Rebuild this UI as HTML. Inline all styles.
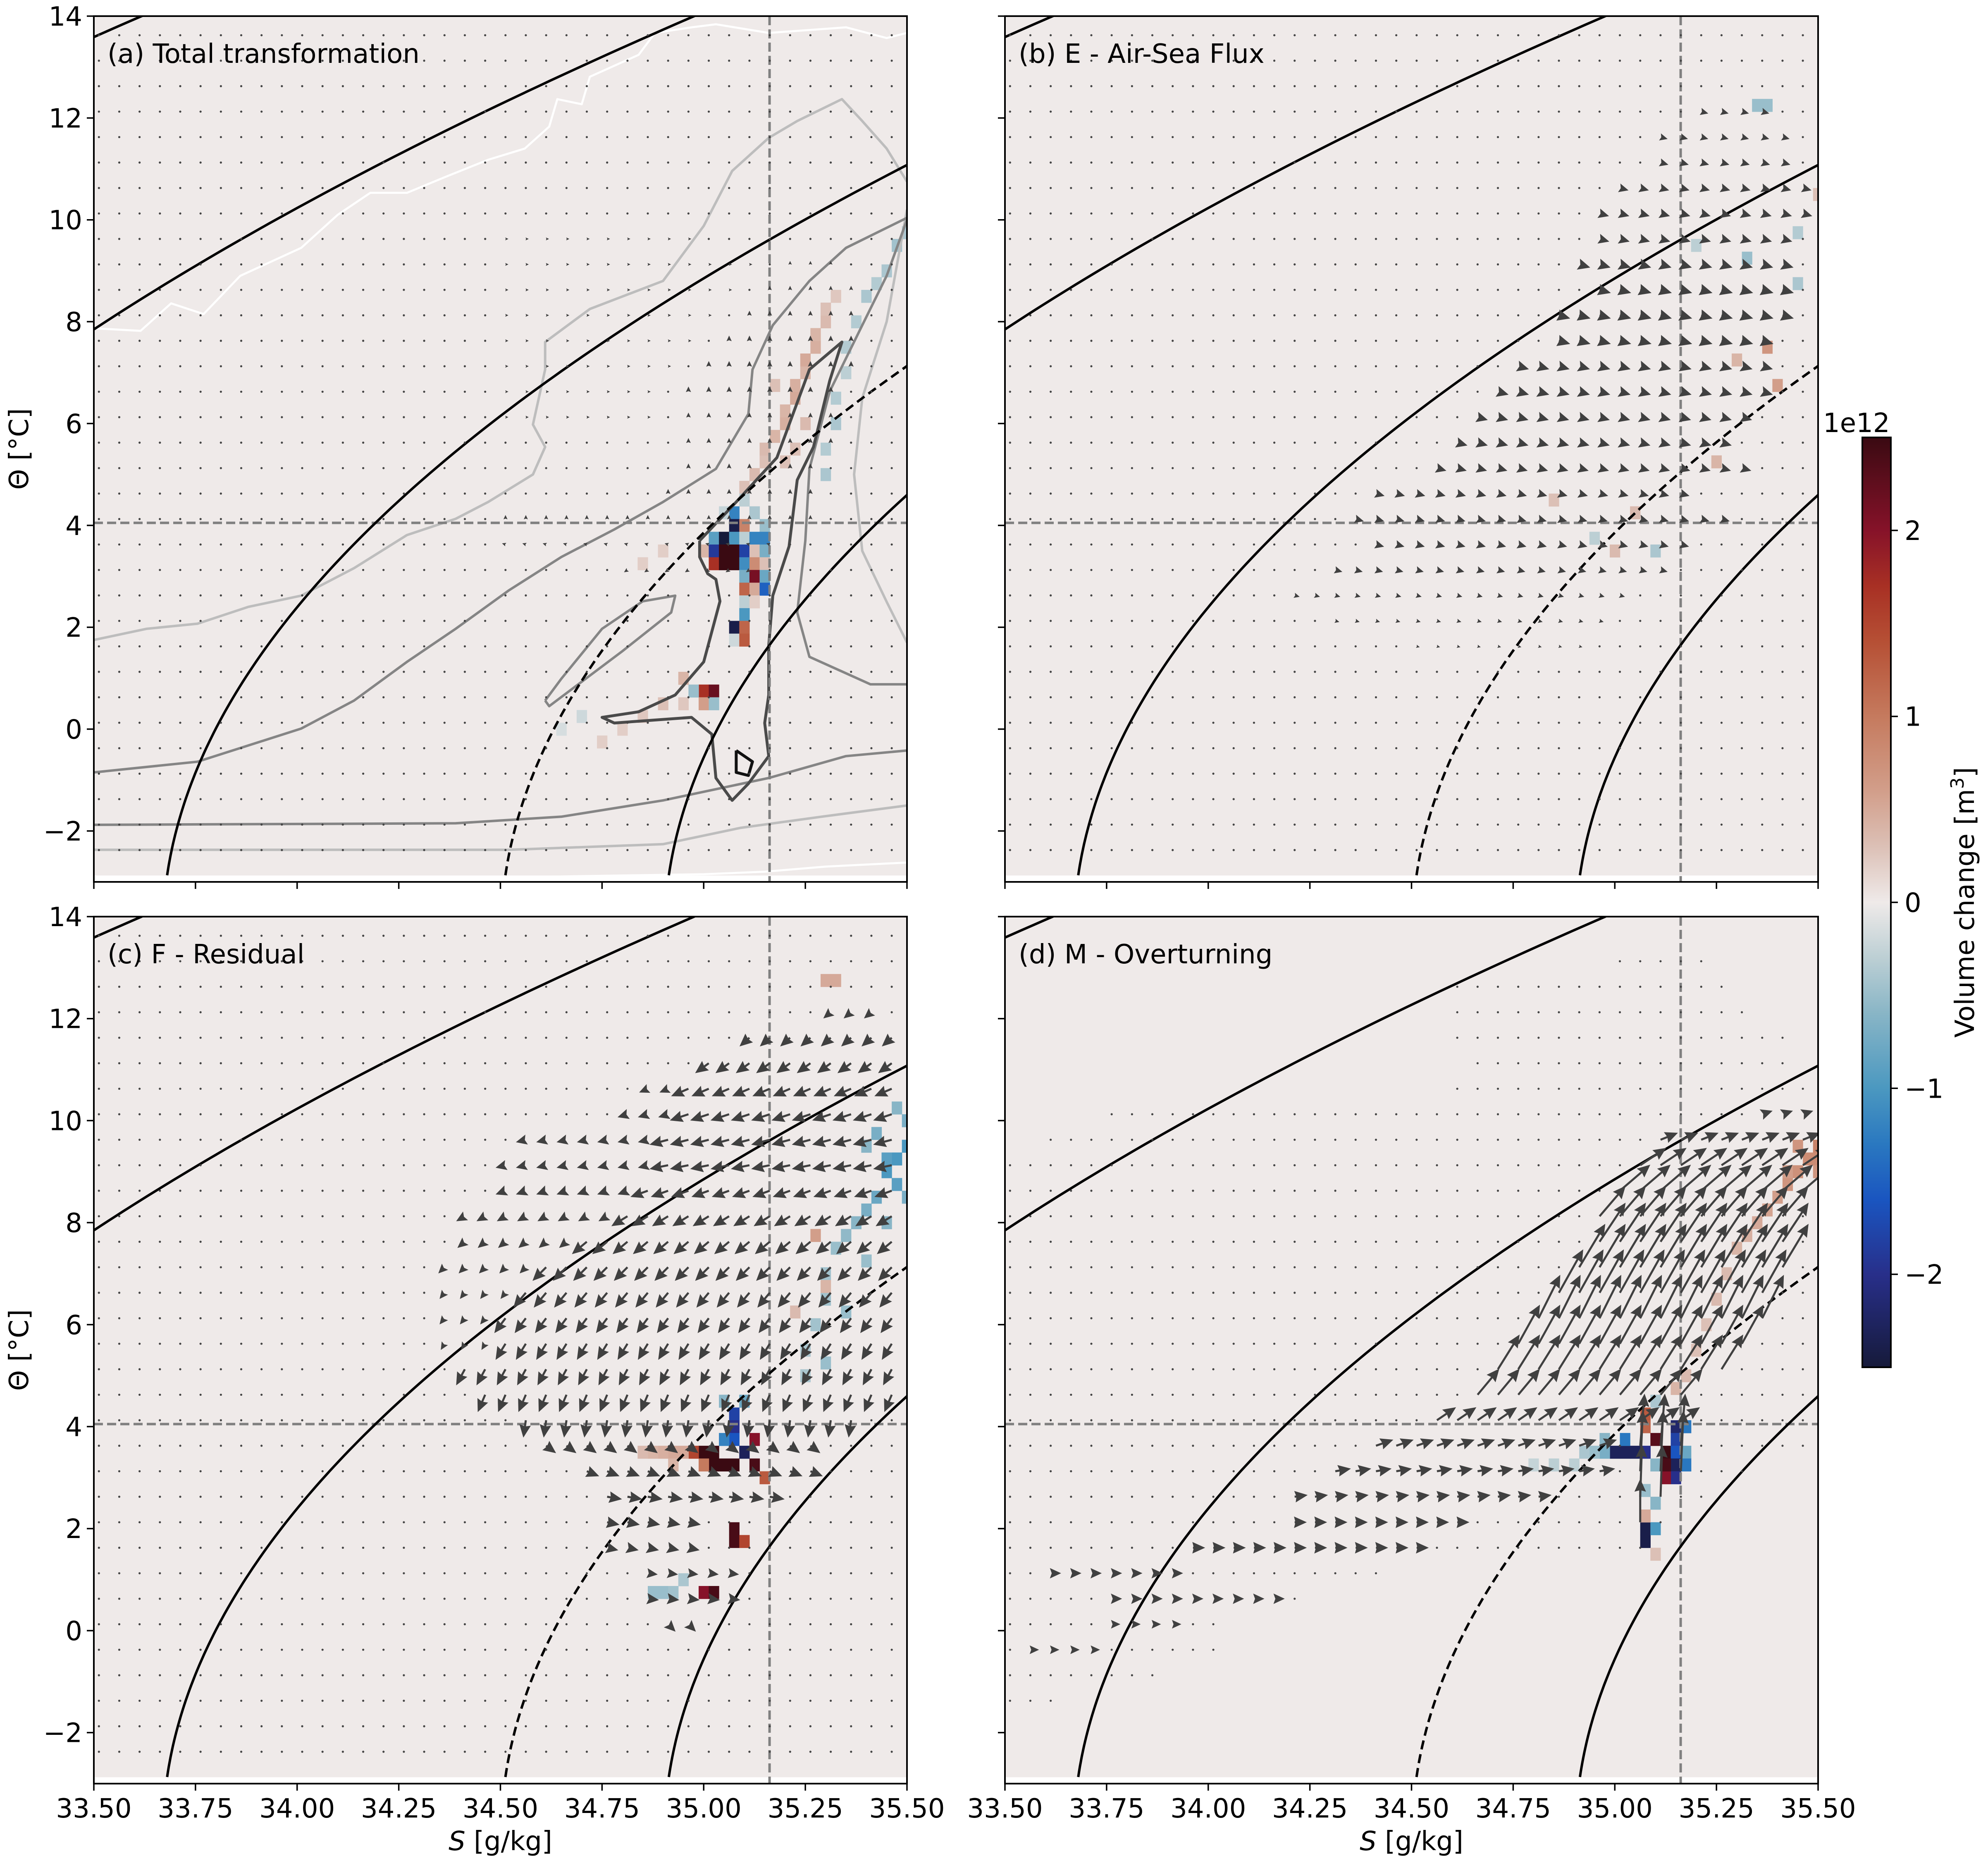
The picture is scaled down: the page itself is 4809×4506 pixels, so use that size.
<!DOCTYPE html>
<html><head><meta charset="utf-8">
<style>
html,body{margin:0;padding:0;background:#fff;}
svg{display:block;font-family:"DejaVu Sans","Liberation Sans",sans-serif;}
</style></head>
<body>
<svg id="fig" xmlns="http://www.w3.org/2000/svg" width="4809" height="4506" viewBox="0 0 4809 4506">
<rect x="0" y="0" width="4809" height="4506" fill="#fff"/>
</svg>
<script>
// ---------- data ----------
const xTicks = [33.5,33.75,34.0,34.25,34.5,34.75,35.0,35.25,35.5];
const xTickLabels = ["33.50","33.75","34.00","34.25","34.50","34.75","35.00","35.25","35.50"];
const yTicks = [-2,0,2,4,6,8,10,12,14];
const yTickLabels = ["−2","0","2","4","6","8","10","12","14"];
const cbTicks = [-2,-1,0,1,2];
const cbTickLabels = ["−2","−1","0","1","2"];
const refS = 35.162, refT = 4.05;

// isopycnals: salinity at T=-3 for each curve; curve shape S = S0 + a(T+3) + b(T+3)^2
const isoS0 = [31.018, 32.377, 33.678, 34.51, 34.912];
const isoDashed = [false, false, false, true, false];
const isoA1 = 0.0164, isoB2 = 0.00803;

// contours panel a
const ctWhiteTop = [[33.5,7.87],[33.615,7.82],[33.69,8.36],[33.77,8.15],[33.86,8.9],[33.92,9.12],[34.01,9.45],[34.1,10.1],[34.18,10.53],[34.27,10.53],[34.37,10.86],[34.47,11.18],[34.56,11.4],[34.62,11.83],[34.64,12.37],[34.7,12.27],[34.72,12.81],[34.84,13.24],[34.88,13.67],[34.97,13.78],[35.03,13.84],[35.16,13.67],[35.35,13.78],[35.45,13.57],[35.5,13.67]];
const ctWhiteBot = [[34.2,-2.95],[34.6,-2.9],[35.0,-2.85],[35.15,-2.8],[35.3,-2.7],[35.5,-2.62]];
const ctLight1 = [[33.5,1.75],[33.63,1.97],[33.755,2.07],[33.88,2.4],[34.01,2.62],[34.14,3.16],[34.27,3.81],[34.39,4.13],[34.47,4.46],[34.58,5.0],[34.61,5.54],[34.58,5.98],[34.61,7.06],[34.61,7.6],[34.72,8.25],[34.9,8.8],[35.0,9.88],[35.07,10.96],[35.16,11.61],[35.23,11.94],[35.34,12.37],[35.39,11.94],[35.45,11.4],[35.5,10.75]];
const ctLight2 = [[35.5,10.2],[35.45,8.0],[35.39,6.5],[35.37,5.0],[35.39,3.5],[35.45,2.5],[35.5,1.7]];
const ctLight3 = [[33.5,-2.37],[34.01,-2.37],[34.52,-2.37],[34.9,-2.26],[35.09,-1.94],[35.29,-1.72],[35.5,-1.5]];
const ctMid1 = [[33.5,-0.85],[33.755,-0.64],[34.01,0.01],[34.14,0.56],[34.27,1.32],[34.39,1.97],[34.52,2.72],[34.65,3.38],[34.78,3.92],[34.9,4.46],[35.03,5.11],[35.11,6.19],[35.12,7.06],[35.17,7.93],[35.26,8.8],[35.35,9.45],[35.5,10.04]];
const ctMid2 = [[35.5,10.0],[35.45,8.9],[35.39,7.93],[35.31,6.63],[35.26,5.11],[35.25,3.7],[35.23,2.29],[35.26,1.42],[35.41,0.88],[35.5,0.88]];
const ctMid3 = [[33.5,-1.88],[34.39,-1.85],[34.65,-1.72],[34.9,-1.4],[35.16,-0.96],[35.35,-0.53],[35.5,-0.42]];
const ctMid4 = [[34.61,0.56],[34.65,0.99],[34.75,1.97],[34.85,2.51],[34.93,2.62],[34.92,2.29],[34.8,1.53],[34.71,0.99],[34.62,0.45],[34.61,0.56]];
const ctDark1 = [[34.99,3.7],[35.08,4.46],[35.18,5.33],[35.26,7.06],[35.34,7.6],[35.31,6.84],[35.27,5.54],[35.23,4.89],[35.21,3.59],[35.17,2.62],[35.16,1.64],[35.16,0.67],[35.15,0.12],[35.16,-0.53],[35.11,-1.07],[35.07,-1.4],[35.03,-0.96],[35.02,-0.1],[34.97,0.23],[34.78,0.12],[34.75,0.23],[34.84,0.34],[34.93,0.67],[35.0,1.32],[35.04,2.51],[35.03,2.94],[35.01,3.05],[34.99,3.38],[34.99,3.7]];
const ctBlack1 = [[35.08,-0.42],[35.12,-0.64],[35.11,-0.91],[35.08,-0.85],[35.08,-0.42]];

// heatmap anomaly cells [S, T, value(1e12 m^3)]
const cellsA = [[35.075,4.25,-1.2],[35.075,4.0,-2.4],[35.1,4.0,0.9],[35.15,4.0,-0.5],
[35.025,3.75,-0.9],[35.05,3.75,-2.5],[35.075,3.75,-1.0],[35.1,3.75,-0.3],[35.125,3.75,-1.2],[35.15,3.75,-1.2],
[35.0,3.5,0.4],[35.025,3.5,-1.9],[35.05,3.5,2.5],[35.075,3.5,2.5],[35.1,3.5,-1.8],[35.125,3.5,0.3],[35.15,3.5,-0.7],
[35.025,3.25,1.7],[35.05,3.25,2.5],[35.075,3.25,2.5],[35.1,3.25,-1.1],[35.125,3.25,0.8],[35.15,3.25,0.3],
[35.1,3.0,-0.7],[35.125,3.0,2.1],[35.15,3.0,-0.8],[35.1,2.75,1.2],[35.125,2.75,0.5],[35.15,2.75,-1.5],
[35.1,2.5,-0.3],[35.125,2.5,0.2],[35.1,2.25,-1.0],[35.075,2.0,-2.4],[35.1,2.0,1.2],[35.075,1.75,-0.2],[35.1,1.75,1.3],
[35.0,0.75,1.7],[35.025,0.75,2.2],[35.0,0.5,0.6],[34.975,0.75,-0.5],[35.025,0.5,-0.5],[34.95,1.0,0.4],
[35.1,4.75,0.3],[35.125,5.0,0.35],[35.15,5.25,0.3],[35.15,5.5,0.35],[35.175,5.75,0.4],[35.2,6.0,0.45],[35.2,6.25,0.4],[35.225,6.5,0.5],[35.225,6.75,0.45],[35.25,7.0,0.4],[35.25,7.25,0.5],[35.275,7.5,0.45],[35.275,7.75,0.4],[35.3,8.0,0.35],[35.3,8.25,0.3],[35.325,8.5,0.25],[35.225,5.5,0.3],[35.25,6.0,0.35],[35.2,5.25,0.3],[35.175,6.75,0.3],
[35.3,5.0,-0.4],[35.3,5.5,-0.35],[35.325,6.0,-0.4],[35.325,6.5,-0.35],[35.35,7.0,-0.3],[35.35,7.5,-0.35],[35.375,8.0,-0.35],[35.4,8.5,-0.4],[35.425,8.75,-0.35],[35.45,9.0,-0.4],[35.475,9.5,-0.45],[35.5,9.75,-0.4],[35.125,4.25,-0.4],[35.1,4.5,-0.3],[35.05,4.25,-0.25],
[34.85,0.25,0.25],[34.8,0.0,0.2],[34.75,-0.25,0.2],[34.9,0.5,0.3],[34.95,0.5,0.25],[34.7,0.25,-0.2],[34.65,0.0,-0.15],[34.9,3.5,0.2],[34.85,3.25,0.2]];
const cellsB = [[35.35,12.25,-0.5],[35.375,12.25,-0.5],[35.325,9.25,-0.5],[35.375,7.5,0.7],[35.4,6.75,0.6],[35.45,8.75,-0.4],[35.45,9.75,-0.35],[35.1,3.5,-0.4],[35.0,3.5,0.35],[35.05,4.25,0.35],[34.95,3.75,-0.3],[35.25,5.25,0.4],[35.3,7.25,0.4],[35.5,10.5,0.3],[35.2,9.5,-0.3],[34.85,4.5,0.3]];
const cellsC = [[35.075,4.25,-1.8],[35.075,4.0,-2.0],[35.075,3.75,-1.6],[35.05,3.75,-1.2],[35.0,3.5,2.5],[35.025,3.5,2.5],[34.975,3.5,1.5],[35.1,3.5,-2.3],[35.125,3.75,2.0],
[35.025,3.25,2.5],[35.05,3.25,2.5],[35.075,3.25,2.5],[35.125,3.25,2.4],[35.15,3.0,1.3],[35.075,2.0,2.4],[35.075,1.75,2.4],[35.1,1.75,1.5],[35.0,0.75,2.0],[35.025,0.75,2.4],
[34.95,3.5,0.5],[34.925,3.5,0.5],[34.9,3.5,0.45],[34.875,3.5,0.4],[34.85,3.5,0.35],[34.925,3.25,0.4],[34.875,0.75,-0.5],[34.9,0.75,-0.5],[34.925,0.75,-0.45],[34.95,1.0,-0.4],[35.1,4.5,-0.8],[35.05,4.5,-0.6],[35.0,3.25,1.0],
[35.45,9.0,-1.0],[35.475,9.25,-1.0],[35.5,9.5,-1.0],[35.45,9.25,-0.9],[35.475,8.75,-0.9],[35.425,8.5,-0.8],[35.4,8.25,-0.7],[35.375,8.0,-0.6],[35.35,7.75,-0.55],[35.325,7.5,-0.5],[35.3,7.0,-0.45],[35.3,6.5,-0.45],[35.275,6.0,-0.45],[35.25,5.5,-0.4],[35.25,5.0,-0.4],[35.3,5.25,-0.5],[35.35,6.25,-0.5],[35.4,7.25,-0.5],[35.45,8.0,-0.6],[35.5,8.5,-0.7],[35.5,10.0,-0.7],[35.475,10.25,-0.6],[35.425,9.75,-0.7],[35.4,9.5,-0.6],[35.275,7.75,0.6],[35.3,6.75,0.4],[35.225,6.25,0.35],[35.3,12.75,0.5],[35.325,12.75,0.5]];
const cellsD = [[35.075,4.25,1.3],[35.075,4.0,1.2],[35.1,3.75,2.3],[35.0,3.5,-2.3],[35.025,3.5,-2.3],[35.05,3.5,-2.3],[35.075,3.5,-2.0],[35.025,3.75,-1.3],[35.125,3.5,2.5],[35.15,4.0,-2.2],[35.15,3.75,-1.8],[35.15,3.5,-1.6],[35.15,3.25,-2.3],[35.15,3.0,-2.0],[35.175,4.0,-1.3],[35.175,3.5,-0.8],[35.175,3.25,-1.3],[35.125,3.0,2.0],[35.125,3.25,2.4],[35.1,3.25,-0.6],
[35.075,2.0,-2.4],[35.075,1.75,-2.4],[35.1,2.0,-1.0],[35.075,2.25,0.5],[35.1,2.5,-0.6],[35.075,2.75,-0.5],[35.1,1.5,0.3],
[34.975,3.5,-0.7],[34.95,3.5,-0.5],[34.925,3.5,-0.4],[34.9,3.25,-0.3],[34.85,3.25,-0.3],[34.8,3.25,-0.25],[34.975,3.75,-0.6],[35.1,4.5,-0.4],
[35.5,9.5,0.9],[35.475,9.25,0.8],[35.45,9.0,0.75],[35.425,8.75,0.7],[35.5,9.25,0.8],[35.5,9.0,0.7],[35.4,8.5,0.6],[35.375,8.25,0.55],[35.35,8.0,0.5],[35.325,7.75,0.45],[35.3,7.5,0.4],[35.275,7.0,0.35],[35.25,6.5,0.35],[35.225,6.0,0.3],[35.2,5.5,0.3],[35.175,5.0,0.35],[35.15,4.75,0.4],[35.45,9.5,0.7],[35.425,9.0,0.6]];

// quiver rows: [T, Smin, Smax, u, v]  (later rows override earlier ones at the same point)
const quivA = [[9.125,35.2,35.35,0,0.3],[8.625,35.15,35.4,0,0.35],[8.125,35.1,35.4,0,0.4],[7.625,35.05,35.4,0,0.45],[7.125,35.0,35.4,0,0.45],[6.625,34.95,35.35,0,0.45],[6.125,34.95,35.35,0,0.4],[5.625,34.95,35.35,0,0.4],[5.125,34.95,35.3,0,0.4],[4.625,34.9,35.3,0,0.4],[4.125,34.5,35.3,0,0.35],[3.625,34.5,35.2,-0.3,0.1],[3.125,34.8,35.15,-0.3,-0.2],
[9.625,34.5,35.0,0.25,0],[9.125,34.5,35.15,0.25,0],[8.625,34.5,35.1,0.25,0],[8.125,34.5,35.05,0.25,0],[7.625,34.5,35.0,0.25,0],[7.125,34.5,34.95,0.25,0],[6.625,34.5,34.9,0.25,0],[6.125,34.5,34.9,0.25,0]];
const quivB = [[12.125,35.2,35.4,0.45,-0.12],[11.625,35.1,35.45,0.45,-0.12],[11.125,35.1,35.45,0.5,-0.14],[10.625,35.0,35.5,0.55,-0.15],[10.125,34.95,35.5,0.6,-0.17],[9.625,34.95,35.45,0.62,-0.17],[9.125,34.9,35.45,0.7,-0.2],[8.625,34.95,35.45,0.72,-0.2],[8.125,34.85,35.45,0.72,-0.2],[7.625,34.85,35.4,0.72,-0.2],[7.125,34.75,35.4,0.68,-0.19],[6.625,34.7,35.4,0.68,-0.19],[6.125,34.65,35.35,0.65,-0.18],[5.625,34.6,35.3,0.65,-0.18],[5.125,34.55,35.35,0.6,-0.17],[4.625,34.4,35.2,0.55,-0.15],[4.125,34.35,35.3,0.52,-0.14],[3.625,34.4,35.2,0.52,-0.14],[3.125,34.3,35.15,0.45,-0.12],[2.625,34.2,35.05,0.32,-0.09],[2.125,34.3,35.0,0.26,-0.07],[1.625,34.5,34.95,0.2,-0.05]];
const quivC = [[12.125,35.3,35.45,-0.3,-0.25],[11.625,35.1,35.5,-0.4,-0.35],[11.125,35.0,35.5,-0.55,-0.4],[10.625,34.85,35.5,-0.7,-0.3],[10.125,34.8,35.5,-0.75,-0.25],[9.625,34.55,35.5,-0.75,-0.2],[9.125,34.5,35.5,-0.75,-0.15],[8.625,34.5,35.5,-0.7,-0.25],[8.125,34.4,35.5,-0.65,-0.4],[7.625,34.4,35.5,-0.6,-0.5],[7.125,34.35,35.5,-0.55,-0.55],[6.625,34.35,35.5,-0.5,-0.6],[6.125,34.35,35.5,-0.45,-0.6],[5.625,34.35,35.5,-0.4,-0.65],[5.125,34.4,35.5,-0.35,-0.65],[4.625,34.45,35.5,-0.3,-0.7],[4.125,34.55,35.4,-0.1,-0.7],[3.625,34.6,35.3,0.4,-0.3],[3.125,34.7,35.3,0.5,-0.2],[2.625,34.75,35.2,0.6,-0.1],[2.125,34.75,35.0,0.5,-0.1],[1.625,34.75,35.0,0.45,-0.1],[1.125,34.85,35.1,0.4,-0.05],[0.625,34.85,35.1,0.45,-0.05],[0.125,34.9,35.0,0.3,-0.3],
[10.625,34.85,34.95,-0.35,-0.15],[10.125,34.8,34.95,-0.4,-0.12],[9.625,34.55,34.9,-0.4,-0.1],[9.125,34.5,34.9,-0.4,-0.1],[8.625,34.5,34.85,-0.4,-0.15],[8.125,34.4,34.8,-0.35,-0.2],[7.625,34.4,34.7,-0.3,-0.25],[7.125,34.35,34.6,-0.25,-0.25],[6.625,34.35,34.55,-0.2,-0.25],[6.125,34.35,34.5,-0.2,-0.25],[5.625,34.35,34.5,-0.15,-0.25]];
const quivD = [[10.125,35.35,35.5,0.12,0.04],[9.625,35.1,35.5,0.2,0.08],[9.125,35.05,35.5,0.3,0.2],[8.625,35.0,35.5,0.35,0.3],[8.125,34.95,35.45,0.3,0.35],[7.625,34.95,35.45,0.3,0.45],[7.125,34.9,35.45,0.3,0.5],[6.625,34.85,35.4,0.28,0.5],[6.125,34.8,35.4,0.25,0.5],[5.625,34.75,35.35,0.25,0.45],[5.125,34.7,35.3,0.25,0.4],[4.625,34.65,35.2,0.25,0.3],[4.125,34.55,35.2,0.22,0.15],[3.625,34.4,35.0,0.2,0.07],[3.125,34.3,35.0,0.18,0.03],[2.625,34.2,34.85,0.15,0.02],[2.125,34.2,34.65,0.14,0.0],[1.625,33.95,34.55,0.14,0],[1.125,33.6,33.95,0.12,0],[0.625,33.75,34.2,0.12,0],[0.125,33.75,33.95,0.1,0],[-0.375,33.55,33.75,0.1,0],
[3.625,35.05,35.2,0.05,0.6],[3.125,35.05,35.2,0.03,0.7],[2.625,35.05,35.15,0.02,0.6],[2.125,35.05,35.1,0,0.5]];
const dotRowsD = [[13.125,35.0,35.2],[12.625,34.6,35.26],[12.125,34.6,35.3],[11.625,34.6,35.4],[11.125,34.65,35.4],[10.625,34.6,35.5],[10.125,33.75,35.5],[9.625,33.6,35.5],[9.125,33.5,35.5],[8.625,33.5,35.5],[8.125,33.5,35.5],[7.625,33.5,35.5],[7.125,33.5,35.5],[6.625,33.5,35.5],[6.125,33.5,35.5],[5.625,33.5,35.5],[5.125,33.5,35.5],[4.625,33.5,35.5],[4.125,33.5,35.5],[3.625,33.5,35.5],[3.125,33.5,35.3],[2.625,33.5,35.2],[2.125,33.5,35.1],[1.625,33.5,35.05],[1.125,33.5,34.4],[0.625,33.5,34.2],[0.125,33.5,34.0],[-0.375,33.5,34.0],[-0.875,33.5,33.87],[-1.375,33.5,33.62]];

const cmapVals = [-2.5,-2.0,-1.6,-1.3,-1.0,-0.6,-0.3,0,0.3,0.6,1.0,1.4,1.7,2.0,2.5];
const cmapCols = ["#161a3a","#282f8a","#1a55c0","#2a78c0","#4b98c0","#88b5c6","#bccfd4","#efeae9","#dcc0b6","#d29e8a","#c57a5e","#b65035","#a83024","#861229","#3a0a12"];

// ---------- helpers ----------
const NS = "http://www.w3.org/2000/svg";
const svg = document.getElementById('fig');
function mk(tag, attrs, parent){ const e=document.createElementNS(NS,tag); for(const k in attrs) e.setAttribute(k,attrs[k]); (parent||svg).appendChild(e); return e; }
function hex2rgb(h){return [parseInt(h.substr(1,2),16),parseInt(h.substr(3,2),16),parseInt(h.substr(5,2),16)];}
function cmap(v){
  v=Math.max(-2.5,Math.min(2.5,v));
  for(let i=0;i<cmapVals.length-1;i++){
    if(v<=cmapVals[i+1]){ const t=(v-cmapVals[i])/(cmapVals[i+1]-cmapVals[i]); const a=hex2rgb(cmapCols[i]),b=hex2rgb(cmapCols[i+1]);
      return 'rgb('+a.map((x,k)=>Math.round(x+(b[k]-x)*t)).join(',')+')'; }
  }
  return cmapCols[cmapCols.length-1];
}
const panels = {
  a:{x0:227,x1:2194,y0:39,y1:2133,title:"(a) Total transformation",cells:cellsA,quiv:quivA,K:28,xl:false,yl:true},
  b:{x0:2431,x1:4398,y0:39,y1:2133,title:"(b) E - Air-Sea Flux",cells:cellsB,quiv:quivB,K:38,xl:false,yl:false},
  c:{x0:227,x1:2194,y0:2217,y1:4314,title:"(c) F - Residual",cells:cellsC,quiv:quivC,K:60,xl:true,yl:true},
  d:{x0:2431,x1:4398,y0:2217,y1:4314,title:"(d) M - Overturning",cells:cellsD,quiv:quivD,K:210,xl:true,yl:false}
};
function sx(p,S){return p.x0+(S-33.5)/2*(p.x1-p.x0);}
function ty(p,T){return p.y1-(T+3)/17*(p.y1-p.y0);}
function isoPath(p,S0){
  let d='';
  for(let T=-2.87;T<=14.6;T+=0.1){
    const x=T+3; const S=S0+isoA1*x+isoB2*x*x;
    d+=(d?' L':'M')+sx(p,S).toFixed(1)+','+ty(p,T).toFixed(1);
  }
  return d;
}
function polyPath(p,pts){ return pts.map((q,i)=>(i?'L':'M')+sx(p,q[0]).toFixed(1)+','+ty(p,q[1]).toFixed(1)).join(' '); }
function arrow(g,x,y,dx,dy){
  const L=Math.hypot(dx,dy);
  if(L<3){ const c=mk('circle',{cx:x,cy:y,r:2.6,fill:'#444'},g);
    
     return; }
  const ux=dx/L,uy=dy/L,nx=-uy,ny=ux;
  const HL=28,HW=14,SW=2.5;
  let d;
  if(L<=HL){ const hw=0.5*L;
    d=`M${x+dx},${y+dy} L${x-ux*L*0.08+nx*hw},${y-uy*L*0.08+ny*hw} L${x+ux*L*0.1},${y+uy*L*0.1} L${x-ux*L*0.08-nx*hw},${y-uy*L*0.08-ny*hw} Z`;
  } else {
    const bx=x+ux*(L-HL),by=y+uy*(L-HL);
    d=`M${x+nx*SW},${y+ny*SW} L${bx+nx*SW},${by+ny*SW} L${bx-ux*3+nx*HW},${by-uy*3+ny*HW} L${x+dx},${y+dy} L${bx-ux*3-nx*HW},${by-uy*3-ny*HW} L${bx-nx*SW},${by-ny*SW} L${x-nx*SW},${y-ny*SW} Z`;
  }
  const a=mk('path',{d:d,fill:'#404040'},g);
  
  
}
const gridS=[]; for(let i=0;i<40;i++) gridS.push(33.5125+0.05*i);
const gridT=[]; for(let j=0;j<33;j++) gridT.push(13.625-0.5*j);

const defs=mk('defs',{});
for(const k in panels){ const p=panels[k]; const cp=mk('clipPath',{id:'clip'+k},defs); mk('rect',{x:p.x0,y:p.y0,width:p.x1-p.x0,height:p.y1-p.y0},cp); }

for(const k in panels){
  const p=panels[k];
  const g=mk('g',{'clip-path':'url(#clip'+k+')'});
  
  
  const bg=mk('rect',{x:p.x0,y:p.y0,width:p.x1-p.x0,height:p.y1-p.y0,fill:'#efeae9'},g);
  
  
  mk('rect',{x:p.x0,y:ty(p,-2.875),width:p.x1-p.x0,height:p.y1-ty(p,-2.875),fill:'#fff'},g);
  const cw=sx(p,33.525)-sx(p,33.5), ch=ty(p,0)-ty(p,0.25);
  p.cells.forEach(c=>{
    const r=mk('rect',{x:(sx(p,c[0])-cw/2).toFixed(1),y:(ty(p,c[1])-ch/2).toFixed(1),width:(cw+0.6).toFixed(1),height:(ch+0.6).toFixed(1),fill:cmap(c[2])},g);
    
    
  });
  if(k==='a'){
    const cts=[[ctWhiteTop,'#ffffff',5],[ctWhiteBot,'#ffffff',5],[ctLight1,'#bdbdbd',6],[ctLight2,'#bdbdbd',6],[ctLight3,'#bdbdbd',6],[ctMid1,'#858585',6],[ctMid2,'#858585',6],[ctMid3,'#858585',6],[ctMid4,'#858585',6],[ctDark1,'#4a4a4a',7],[ctBlack1,'#111111',7]];
    cts.forEach(c=>{ const e=mk('path',{d:polyPath(p,c[0]),fill:'none',stroke:c[1],'stroke-width':c[2],'stroke-linejoin':'round'},g);
      
       });
  }
  const vl=mk('line',{x1:sx(p,refS),x2:sx(p,refS),y1:p.y0,y2:p.y1,stroke:'#808080','stroke-width':6,'stroke-dasharray':'22,10'},g);
  
  
  const hl=mk('line',{x1:p.x0,x2:p.x1,y1:ty(p,refT),y2:ty(p,refT),stroke:'#808080','stroke-width':6,'stroke-dasharray':'22,10'},g);
  
  
  isoS0.forEach((S0,i)=>{
    const e=mk('path',{d:isoPath(p,S0),fill:'none',stroke:'#000','stroke-width':6,'stroke-linejoin':'round'},g);
    if(isoDashed[i]) e.setAttribute('stroke-dasharray','22,12');
    
    
  });
  const qg=mk('g',{},g);
  
  
  const vecs=new Map();
  p.quiv.forEach(r=>{ gridS.forEach(S=>{ if(S>=r[1]-1e-6&&S<=r[2]+1e-6){ vecs.set(S.toFixed(4)+'_'+r[0],[S,r[0],r[3],r[4]]); } }); });
  gridT.forEach(T=>{
    let lo=33.5,hi=35.5,ok=true;
    if(k==='d'){ const rr=dotRowsD.find(r=>Math.abs(r[0]-T)<1e-6); if(!rr) ok=false; else {lo=rr[1];hi=rr[2];} }
    if(!ok) return;
    gridS.forEach(S=>{ if(S>=lo-0.02&&S<=hi+0.02&&!vecs.has(S.toFixed(4)+'_'+T)) arrow(qg,sx(p,S),ty(p,T),0,0); });
  });
  vecs.forEach(a=>arrow(qg,sx(p,a[0]),ty(p,a[1]),a[2]*p.K,-a[3]*p.K));
  const t=mk('text',{x:p.x0+33,y:p.y0+113,'font-size':64,fill:'#000'});
  t.textContent=p.title;
  
  
  const fr=mk('rect',{x:p.x0,y:p.y0,width:p.x1-p.x0,height:p.y1-p.y0,fill:'none',stroke:'#000','stroke-width':4});
  
  
  yTicks.forEach((v,i)=>{ const y=ty(p,v);
    const tk=mk('line',{x1:p.x0-17,x2:p.x0,y1:y,y2:y,stroke:'#000','stroke-width':3.5});
    
    
    if(p.yl){ const tl=mk('text',{x:p.x0-28,y:y+23,'font-size':64,'text-anchor':'end'}); tl.textContent=yTickLabels[i];
      
       }
  });
  xTicks.forEach((v,i)=>{ const x=sx(p,v);
    const tk=mk('line',{x1:x,x2:x,y1:p.y1,y2:p.y1+17,stroke:'#000','stroke-width':3.5});
    
    
    if(p.xl){ const tl=mk('text',{x:x,y:p.y1+82,'font-size':64,'text-anchor':'middle'}); tl.textContent=xTickLabels[i];
      
       }
  });
  if(p.xl){ const xl=mk('text',{x:(p.x0+p.x1)/2,y:4475,'font-size':64,'text-anchor':'middle'});
    xl.innerHTML='<tspan font-style="italic">S</tspan> [g/kg]';
    
     }
  if(p.yl){ const cy=(p.y0+p.y1)/2; const yl=mk('text',{x:0,y:0,'font-size':64,'text-anchor':'middle',transform:`translate(68,${cy}) rotate(-90)`});
    yl.textContent='Θ [°C]';
    
     }
}

// colorbar
const cb={x0:4505,x1:4574,y0:1058,y1:3307,vmin:-2.5,vmax:2.5};
function cby(v){return cb.y1-(v-cb.vmin)/(cb.vmax-cb.vmin)*(cb.y1-cb.y0);}
const lg=mk('linearGradient',{id:'cbgrad',x1:0,y1:1,x2:0,y2:0},defs);
cmapVals.forEach((v,i)=>mk('stop',{offset:((v-cb.vmin)/(cb.vmax-cb.vmin)).toFixed(4),'stop-color':cmapCols[i]},lg));
const cbr=mk('rect',{x:cb.x0,y:cb.y0,width:cb.x1-cb.x0,height:cb.y1-cb.y0,fill:'url(#cbgrad)',stroke:'#000','stroke-width':4});


cbTicks.forEach((v,i)=>{ const y=cby(v);
  const tk=mk('line',{x1:cb.x1,x2:cb.x1+17,y1:y,y2:y,stroke:'#000','stroke-width':3.5});
  
  
  const tl=mk('text',{x:cb.x1+33,y:y+23,'font-size':64}); tl.textContent=cbTickLabels[i];
  
  
});
const off=mk('text',{x:4410,y:1045,'font-size':64}); off.textContent='1e12';


const cbl=mk('text',{x:0,y:0,'font-size':64,'text-anchor':'middle',transform:`translate(4775,${(cb.y0+cb.y1)/2}) rotate(-90)`});
cbl.innerHTML='Volume change [m<tspan baseline-shift="super" font-size="44">3</tspan>]';


</script>
</body></html>
